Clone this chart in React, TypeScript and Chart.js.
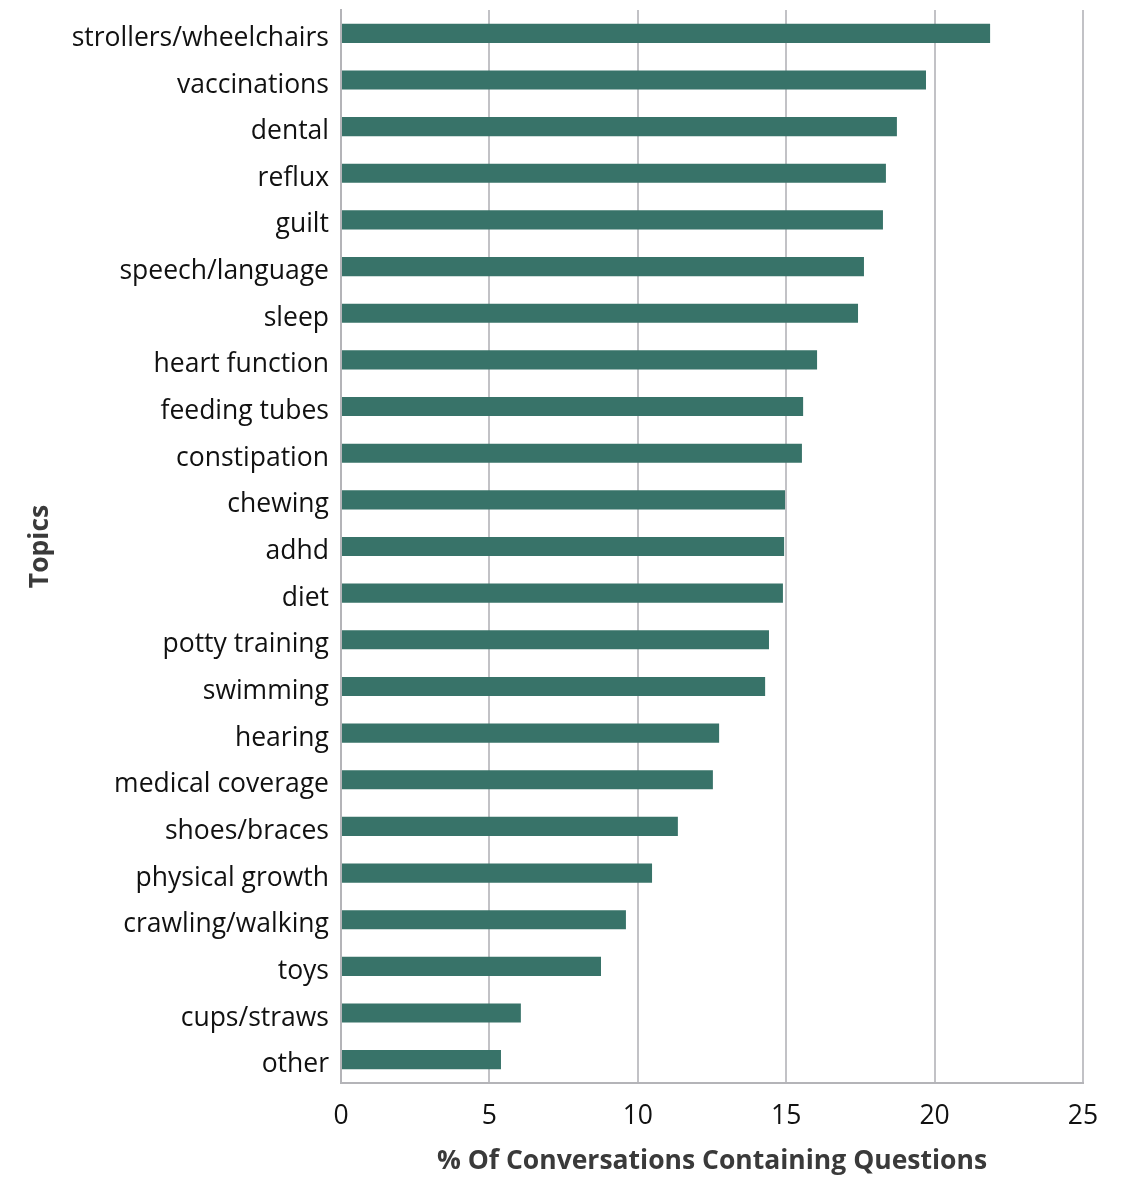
import React, { useEffect, useRef } from "react";
import { Chart, registerables } from "chart.js";

Chart.register(...registerables);

const topics = [
  "strollers/wheelchairs",
  "vaccinations",
  "dental",
  "reflux",
  "guilt",
  "speech/language",
  "sleep",
  "heart function",
  "feeding tubes",
  "constipation",
  "chewing",
  "adhd",
  "diet",
  "potty training",
  "swimming",
  "hearing",
  "medical coverage",
  "shoes/braces",
  "physical growth",
  "crawling/walking",
  "toys",
  "cups/straws",
  "other",
];

const percentages = [
  21.87, 19.71, 18.73, 18.36, 18.26, 17.62, 17.42, 16.04, 15.57, 15.53, 14.96,
  14.93, 14.89, 14.42, 14.29, 12.74, 12.53, 11.35, 10.48, 9.6, 8.76, 6.06, 5.39,
];

const xTicks = [0, 5, 10, 15, 20, 25];

const xTitle = "% Of Conversations Containing Questions";
const yTitle = "Topics";

export default function App() {
  const ref = useRef<HTMLCanvasElement>(null);

  useEffect(() => {
    if (!ref.current) return;
    const chart = new Chart(ref.current, {
      type: "bar",
      data: {
        labels: topics,
        datasets: [
          {
            data: percentages,
            backgroundColor: "#387369",
            borderWidth: 0,
            categoryPercentage: 1,
            barPercentage: 0.41,
          },
        ],
      },
      options: {
        indexAxis: "y",
        animation: false,
        responsive: false,
        maintainAspectRatio: false,
        layout: { padding: { top: 10, right: 47, left: 25, bottom: 0 } },
        plugins: { legend: { display: false }, tooltip: { enabled: false } },
        scales: {
          x: {
            min: 0,
            max: 25,
            afterBuildTicks: (s: any) => {
              s.ticks = xTicks.map((v) => ({ value: v }));
            },
            afterFit: (s: any) => {
              s.height = 1177 - 1083;
              s.paddingLeft = 0;
              s.paddingRight = 0;
            },
            grid: {
              color: "#c2c2c6",
              lineWidth: 2,
              drawTicks: false,
            },
            border: { color: "#b4b4b8", width: 2 },
            ticks: {
              color: "#111111",
              font: { family: "Open Sans", size: 26.5 },
              padding: 18,
            },
            title: {
              display: true,
              text: xTitle,
              color: "#3a3a3a",
              font: { family: "Open Sans", size: 26.5, weight: "bold" },
              padding: { top: 0, bottom: 0 },
            },
          },
          y: {
            afterFit: (s: any) => {
              s.width = 341 - 25;
              s.paddingTop = 0;
              s.paddingBottom = 0;
            },
            grid: { drawOnChartArea: false, drawTicks: false },
            border: { color: "#b4b4b8", width: 2 },
            ticks: {
              color: "#111111",
              font: { family: "Open Sans", size: 26.5 },
              padding: 12,
              labelOffset: 5,
              autoSkip: false,
            },
            title: {
              display: true,
              text: yTitle,
              color: "#3a3a3a",
              font: { family: "Open Sans", size: 26.5, weight: "bold" },
              padding: { top: 0, bottom: 0 },
            },
          },
        },
      },
    });
    return () => chart.destroy();
  }, []);

  return (
    <div style={{ position: "fixed", left: 0, top: 0, width: 1130, height: 1177, background: "#fff" }}>
      <canvas ref={ref} width={1130} height={1177} style={{ display: "block" }} />
    </div>
  );
}
